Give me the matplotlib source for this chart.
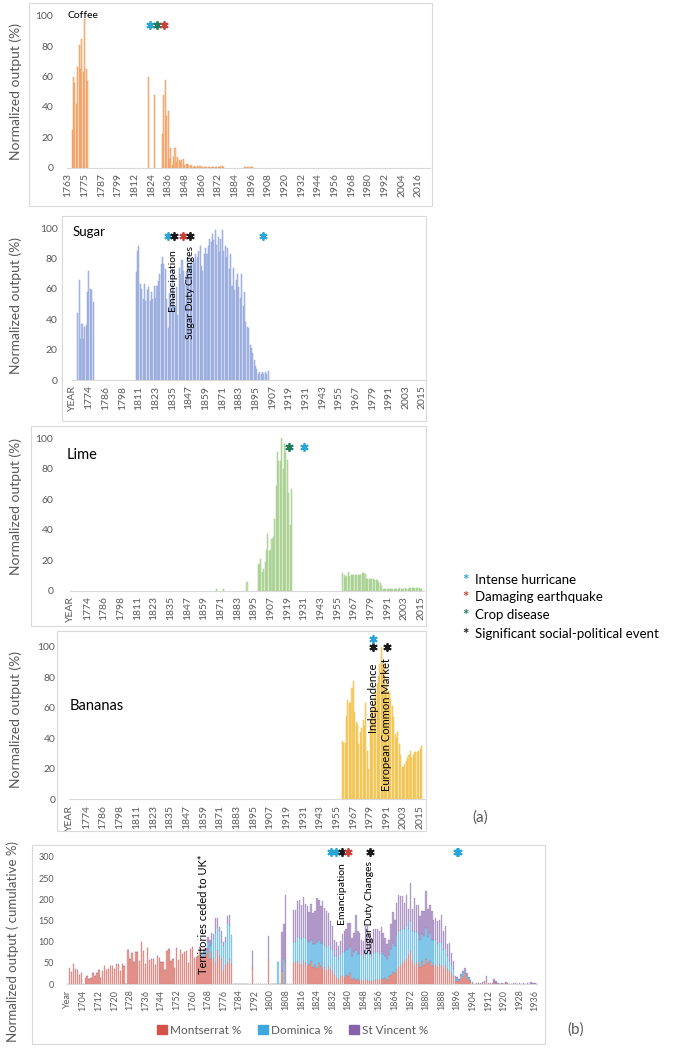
import numpy as np
import matplotlib
matplotlib.use("Agg")
import matplotlib.pyplot as plt
from matplotlib.patches import Rectangle, Patch

plt.rcParams["font.family"] = ["Lato", "DejaVu Sans"]

W, H = 685, 1049

# ================= CATEGORIES =================
# the source sheets skip one year around 1800, kept as is
YEARS_C = list(range(1763, 1800)) + list(range(1801, 2024))            # coffee
YEARS_P = ["YEAR"] + list(range(1763, 1799)) + list(range(1800, 2023))  # sugar / lime / bananas
YEARS_B = ["Year"] + list(range(1697, 1941))                           # panel (b)

# ================= DATA (a) =================
COFFEE_EARLY_START = 1766
COFFEE_EARLY = [25, 60, 56, 42, 66, 81, 65, 85, 63, 98, 65, 57]
COFFEE_SINGLE_YEARS = [1822, 1826]
COFFEE_SINGLE = [60, 48]
COFFEE_MAIN_START = 1832
COFFEE_MAIN = [22, 48, 58, 34, 37, 6, 13, 2, 7, 13, 4, 7, 5, 4, 5, 6, 2, 2.5, 2.5, 2,
               1, 1.5, 0.5, 1, 0.5, 1, 0.5, 1, 0.5, 0.5, 0.5, 0.5, 0.5, 0.3, 0.3,
               0.3, 0.5, 0.3, 0.3, 0.3, 0.3, 0.3, 1.2, 1, 0.3]
COFFEE_LATE_START = 1891
COFFEE_LATE = [0.4, 0.3, 0.5, 0.3, 0.4, 0.5, 0.3]

SUGAR_EARLY_START = 1766
SUGAR_EARLY = [44, 66, 27, 37, 27, 35, 36, 58, 72, 60, 59, 51]
SUGAR_MAIN_START = 1809
SUGAR_MAIN = [71, 85, 88, 63, 60, 53, 63, 52, 59, 61,
              52, 58, 53, 62, 54, 62, 65, 70, 76, 81,
              76, 73, 53, 34, 57, 50, 73, 59, 49, 61,
              43, 74, 70, 79, 72, 63, 72, 81, 75, 77,
              80, 79, 77, 83, 81, 85, 88, 75, 72, 83,
              87, 83, 88, 93, 91, 96, 92, 99, 89, 94,
              84, 93, 99, 85, 88, 81, 87, 73, 83, 62,
              74, 59, 66, 70, 61, 54, 70, 49, 58, 38,
              35, 34, 23, 21, 18, 13, 9, 7, 4, 5,
              4, 5, 4, 5, 4, 6]

LIME_SINGLE_YEARS = [1868, 1873, 1890]
LIME_SINGLE = [0.8, 0.8, 5.5]
LIME_MAIN_START = 1898
LIME_MAIN = [17.5, 17, 21, 12, 14, 19, 27, 37, 26, 27, 34, 35, 47, 69, 91, 85, 85,
             100, 80, 96, 91, 86, 64, 43, 67]
LIME_LATE_START = 1959
LIME_LATE = [11.4, 10, 9, 9.6, 12, 9.8, 10, 10.5, 10, 10.5, 10.2, 10, 10.4, 10.2,
             11.5, 11.8, 11, 7.4, 8, 7.9, 7.6, 7.8, 7.5, 7.2, 7, 6.8, 6, 5, 3.3,
             1.3, 1.2, 1.2, 1.3, 1.2, 1.2, 1.3, 1.2, 1.4, 1.3, 1.2, 1.3, 1.5, 1.4,
             1.3, 1.4, 1.5, 1.3, 1.4, 1.6, 1.8, 1.7, 1.5, 1.6, 1.8, 1.6, 1.5, 1.4, 1.2]

BANANA_START = 1959
BANANAS = [38, 37, 37, 55, 65, 63, 63, 73, 78, 57, 51, 49, 36, 44, 47, 52, 48, 63,
           32, 20, 51, 57, 60, 66, 70, 76, 81, 89, 100, 91, 88, 70, 76, 71, 70, 66,
           61, 54, 43, 40, 44, 36, 29, 21, 21, 23, 25, 27, 29, 32, 27, 29, 31, 31,
           31, 32, 33, 35]

# events (a): (year, colour key)
COFFEE_EVENTS = [(1823, "hurricane"), (1828, "disease"), (1833, "quake")]
SUGAR_EVENTS = [(1832, "hurricane"), (1836, "social"), (1843, "quake"),
                (1848, "social"), (1900, "hurricane")]
LIME_EVENTS = [(1920, "disease"), (1931, "hurricane")]
BANANA_EVENTS = [(1981, "social"), (1991, "social")]
BANANA_EVENTS_HIGH = [(1981, "hurricane")]

# ================= DATA (b) =================
MONT_EARLY_START = 1697
MONT_EARLY = [37, 28, 47, 35, 33, 22, 25, 0, 14, 20,
              11, 15, 26, 18, 27, 33, 15, 31, 42, 34,
              35, 42, 43, 35, 47, 48, 30, 47, 42, 0,
              80, 58, 73, 52, 75, 75, 55, 100, 78, 47,
              85, 57, 59, 59, 46, 66, 61, 53, 53, 32,
              79, 82, 55, 58, 37, 84, 56, 80, 72, 75,
              77, 50, 83, 87, 62, 63, 65, 88, 62, 65,
              70, 85, 60, 75, 62, 50, 80, 65, 60, 30,
              45, 50, 58, 47]
LATE18_START = 1764
DOM_LATE18 = [0, 8, 12, 10, 15, 30, 20, 45, 70, 55, 60, 40, 60, 55, 95, 80, 68]
STV_LATE18 = [0, 0, 5, 5, 12, 15, 25, 10, 35, 20, 10, 25, 10, 12, 15, 25, 0]

ISO_YEARS = [1791, 1799, 1804, 1806, 1807, 1808]
ISO_MONT = [37, 56, 0, 30, 0, 55]
ISO_DOM = [0, 0, 51, 0, 60, 0]
ISO_STV = [41, 57, 0, 93, 82, 156]

C19_START = 1812
MONT_19 = [50, 52, 55, 48, 45, 55, 50, 42, 48, 55,
           40, 45, 38, 50, 42, 35, 40, 30, 42, 35,
           30, 22, 15, 12, 18, 20, 15, 22, 18, 25,
           12, 15, 10, 12, 8, 10, 8, 12, 10, 8,
           6, 8, 10, 12, 10, 14, 12, 15, 10, 18,
           22, 28, 25, 35, 40, 45, 50, 55, 60, 68,
           78, 55, 45, 52, 48, 40, 55, 45, 58, 50,
           55, 42, 50, 45, 40, 48, 42, 35, 45, 35,
           30, 25, 20, 10, 8, 6, 15, 20, 25, 15,
           10, 5, 3]
DOM_19 = [50, 48, 55, 60, 62, 55, 58, 60, 52, 50,
          55, 50, 62, 55, 55, 60, 52, 58, 50, 48,
          50, 45, 50, 48, 52, 55, 60, 58, 65, 62,
          55, 60, 70, 60, 62, 58, 55, 65, 68, 62,
          60, 65, 66, 64, 60, 62, 58, 52, 48, 50,
          60, 70, 65, 80, 85, 82, 80, 75, 80, 62,
          72, 70, 78, 72, 70, 65, 62, 68, 75, 62,
          65, 62, 55, 58, 55, 52, 55, 45, 40, 30,
          25, 20, 15, 5, 4, 3, 4, 5, 6, 5,
          4, 2, 1]
STV_19 = [75, 75, 87, 91, 80, 95, 81, 82, 70, 84,
          73, 78, 103, 93, 87, 100, 88, 85, 76, 65,
          57, 38, 35, 30, 31, 42, 50, 49, 62, 58,
          42, 46, 84, 53, 51, 37, 39, 60, 59, 49,
          42, 58, 53, 55, 55, 58, 51, 42, 36, 37,
          59, 72, 62, 76, 86, 80, 77, 61, 71, 46,
          88, 51, 80, 63, 69, 55, 55, 59, 86, 64,
          67, 68, 47, 53, 53, 52, 67, 45, 52, 29,
          43, 29, 20, 5, 4, 3, 4, 5, 6, 5,
          3, 2, 1]

C20_START = 1905
MONT_20 = [0, 1, 2, 1, 2, 3, 8, 1, 1, 1, 5, 3, 1, 0, 1, 0, 2, 1, 0, 0, 1, 1, 0, 1, 0, 1, 0, 1, 0, 1, 1, 1]
STV_20 = [0, 1, 1, 2, 2, 3, 10, 2, 1, 2, 7, 3, 1, 1, 1, 1, 2, 1, 1, 0, 1, 2, 1, 1, 1, 2, 1, 1, 1, 3, 2, 1]

B_EVENTS = [(1831, "hurricane"), (1834, "hurricane"), (1837, "social"),
            (1840, "quake"), (1851, "social"), (1896, "hurricane"), (1896.6, "hurricane")]

EVENT_COLORS = {"hurricane": "#2AA5D8", "quake": "#C8413A", "disease": "#1E7B5C", "social": "#1A1A1A"}
LEGEND_EVENTS = [("hurricane", "Intense hurricane"), ("quake", "Damaging earthquake"),
                 ("disease", "Crop disease"), ("social", "Significant social-political event")]

SERIES_B = ["Montserrat %", "Dominica %", "St Vincent %"]
SERIES_B_COLORS = ["#D4524A", "#3DA8DE", "#8562A9"]
GREY = "#595959"


# ================= HELPERS =================
def add_box(fig, x0, y0, x1, y1):
    fig.patches.append(Rectangle((x0 / W, 1 - y1 / H), (x1 - x0) / W, (y1 - y0) / H,
                                 transform=fig.transFigure, fill=False,
                                 edgecolor="#D9D9D9", linewidth=0.8))


def add_axes(fig, x0, y0, x1, y1):
    return fig.add_axes([x0 / W, 1 - y1 / H, (x1 - x0) / W, (y1 - y0) / H])


def pos(cats, year):
    if year in cats:
        return cats.index(year)
    lo = int(np.floor(year))
    return cats.index(lo) + (year - lo)


def bars(ax, cats, start, vals, fc, ec):
    i0 = cats.index(start)
    ax.bar(np.arange(i0, i0 + len(vals)), vals, width=0.75, color=fc,
           edgecolor=ec, linewidth=0.35)


def style(ax, cats, step, ylim, yticks, fs, ypad=10):
    for s in ["top", "right", "left"]:
        ax.spines[s].set_visible(False)
    ax.spines["bottom"].set_color("#D9D9D9")
    ax.tick_params(length=0, colors=GREY, labelsize=fs)
    ax.tick_params(axis="x", pad=4)
    ax.tick_params(axis="y", pad=ypad)
    idx = list(range(0, len(cats), step))
    ax.set_xticks(idx)
    ax.set_xticklabels([str(cats[i]) for i in idx], rotation=90)
    ax.set_ylim(*ylim)
    ax.set_yticks(yticks)


def stars(ax, cats, events, y, ms=6):
    for yr, key in events:
        ax.plot(pos(cats, yr), y, marker=(6, 2, 0), ms=ms, mew=1.3,
                color=EVENT_COLORS[key], ls="none", clip_on=False)


def full(cats, segments):
    arr = np.zeros(len(cats))
    for start, vals in segments:
        i0 = cats.index(start)
        arr[i0:i0 + len(vals)] = vals
    return arr


fig = plt.figure(figsize=(W / 100, H / 100), dpi=100)

# boxes
add_box(fig, 29, 3, 432, 206)
add_box(fig, 62, 216, 426, 421)
add_box(fig, 31, 426, 426, 626)
add_box(fig, 57, 631, 426, 831)
add_box(fig, 32, 845, 545, 1044)

YLAB = "Normalized output (%)"

# ---- Coffee ----
ax = add_axes(fig, 67.3, 15.7, 430, 167.7)
fc, ec = "#F7BE95", "#F0964F"
bars(ax, YEARS_C, COFFEE_EARLY_START, COFFEE_EARLY, fc, ec)
for yr, v in zip(COFFEE_SINGLE_YEARS, COFFEE_SINGLE):
    bars(ax, YEARS_C, yr, [v], fc, ec)
bars(ax, YEARS_C, COFFEE_MAIN_START, COFFEE_MAIN, fc, ec)
bars(ax, YEARS_C, COFFEE_LATE_START, COFFEE_LATE, fc, ec)
ax.set_xlim(-0.5, 260.5)
style(ax, YEARS_C, 12, (0, 100), range(0, 101, 20), 7.5)
stars(ax, YEARS_C, COFFEE_EVENTS, 94)
fig.text(67 / W, 1 - 15.5 / H, "Coffee", fontsize=7.5, ha="left", va="center")
fig.text(16 / W, 1 - 92 / H, YLAB, rotation=90, ha="center", va="center", fontsize=10, color=GREY)

# ---- Sugar ----
ax = add_axes(fig, 71.6, 228, 425, 380)
fc, ec = "#B3C1E8", "#8FA3DA"
bars(ax, YEARS_P, SUGAR_EARLY_START, SUGAR_EARLY, fc, ec)
bars(ax, YEARS_P, SUGAR_MAIN_START, SUGAR_MAIN, fc, ec)
ax.set_xlim(-0.5, 254)
style(ax, YEARS_P, 12, (0, 100), range(0, 101, 20), 7.5)
stars(ax, YEARS_P, SUGAR_EVENTS, 95)
ax.text(pos(YEARS_P, 1835), 86, "Emancipation", rotation=90, ha="center", va="top", fontsize=7.5)
ax.text(pos(YEARS_P, 1848), 88, "Sugar Duty Changes", rotation=90, ha="center", va="top", fontsize=7.5)
fig.text(73 / W, 1 - 232 / H, "Sugar", fontsize=9.5, ha="left", va="center")
fig.text(16 / W, 1 - 305 / H, YLAB, rotation=90, ha="center", va="center", fontsize=10, color=GREY)

# ---- Lime ----
ax = add_axes(fig, 70, 438.3, 424, 590.7)
fc, ec = "#C2DEB0", "#9FCB86"
for yr, v in zip(LIME_SINGLE_YEARS, LIME_SINGLE):
    bars(ax, YEARS_P, yr, [v], fc, ec)
bars(ax, YEARS_P, LIME_MAIN_START, LIME_MAIN, fc, ec)
bars(ax, YEARS_P, LIME_LATE_START, LIME_LATE, fc, ec)
ax.set_xlim(-0.5, 254.5)
style(ax, YEARS_P, 12, (0, 100), range(0, 101, 20), 7.5, ypad=12)
stars(ax, YEARS_P, LIME_EVENTS, 94.5)
fig.text(67 / W, 1 - 455 / H, "Lime", fontsize=10.5, ha="left", va="center")
fig.text(16 / W, 1 - 507 / H, YLAB, rotation=90, ha="center", va="center", fontsize=10, color=GREY)

# ---- Bananas ----
ax = add_axes(fig, 69.1, 647, 425, 799.3)
fc, ec = "#F8D681", "#F0BC3C"
bars(ax, YEARS_P, BANANA_START, BANANAS, fc, ec)
ax.set_xlim(-0.5, 255.5)
style(ax, YEARS_P, 12, (0, 100), range(0, 101, 20), 7.5)
stars(ax, YEARS_P, BANANA_EVENTS, 100)
stars(ax, YEARS_P, BANANA_EVENTS_HIGH, 105)
ax.text(pos(YEARS_P, 1981), 89.5, "Independence", rotation=90, ha="center", va="top", fontsize=8)
ax.text(pos(YEARS_P, 1991), 93, "European Common Market", rotation=90, ha="center", va="top", fontsize=8)
fig.text(70 / W, 1 - 706 / H, "Bananas", fontsize=10.5, ha="left", va="center")
fig.text(16 / W, 1 - 720 / H, YLAB, rotation=90, ha="center", va="center", fontsize=10, color=GREY)
fig.text(472 / W, 1 - 818 / H, "(a)", fontsize=11, ha="left", va="center", color=GREY)

# ---- event legend ----
for k, (key, lab) in enumerate(LEGEND_EVENTS):
    yy = [580, 597, 615, 634][k]
    fig.text(465 / W, 1 - (yy + 1) / H, "*", color=EVENT_COLORS[key], fontsize=11,
             ha="center", va="center", fontweight="bold")
    fig.text(475 / W, 1 - yy / H, lab, fontsize=9.5, ha="left", va="center")

# ---- (b) cumulative ----
ax = add_axes(fig, 66.7, 857, 537, 984)
mont = full(YEARS_B, [(MONT_EARLY_START, MONT_EARLY), (C19_START, MONT_19), (C20_START, MONT_20)])
dom = full(YEARS_B, [(LATE18_START, DOM_LATE18), (C19_START, DOM_19)])
stv = full(YEARS_B, [(LATE18_START, STV_LATE18), (C19_START, STV_19), (C20_START, STV_20)])
for yr, m, d, s in zip(ISO_YEARS, ISO_MONT, ISO_DOM, ISO_STV):
    i = YEARS_B.index(yr)
    mont[i], dom[i], stv[i] = m, d, s
x = np.arange(len(YEARS_B))
bottom = np.zeros(len(YEARS_B))
for vals, col in zip([mont, dom, stv], SERIES_B_COLORS):
    ax.bar(x, vals, bottom=bottom, width=0.7, color=col, alpha=0.55,
           edgecolor=col, linewidth=0.3)
    bottom = bottom + vals
ax.set_xlim(-0.5, 241)
style(ax, YEARS_B, 8, (0, 300), range(0, 301, 50), 6.5, ypad=9)
stars(ax, YEARS_B, B_EVENTS, 312)
ax.text(pos(YEARS_B, 1766), 307, "Territories ceded to UK*", rotation=90, ha="center",
        va="top", fontsize=8, clip_on=False)
ax.text(pos(YEARS_B, 1836.5), 287, "Emancipation", rotation=90, ha="center", va="top", fontsize=7.5)
ax.text(pos(YEARS_B, 1851), 291, "Sugar Duty Changes", rotation=90, ha="center", va="top", fontsize=7.5)
fig.text(13 / W, 1 - 941 / H, "Normalized output ( cumulative %)", rotation=90,
         ha="center", va="center", fontsize=9.5, color=GREY)

handles = [Patch(color=c) for c in SERIES_B_COLORS]
leg = fig.legend(handles, SERIES_B, ncol=3, loc="center", bbox_to_anchor=(293 / W, 1 - 1030 / H),
                 frameon=False, fontsize=8.5, handlelength=0.8, handleheight=0.8,
                 columnspacing=1.4, handletextpad=0.3)
for t in leg.get_texts():
    t.set_color(GREY)
fig.text(567 / W, 1 - 1030 / H, "(b)", fontsize=11, ha="left", va="center", color=GREY)

fig.savefig("out.png", dpi=100)
